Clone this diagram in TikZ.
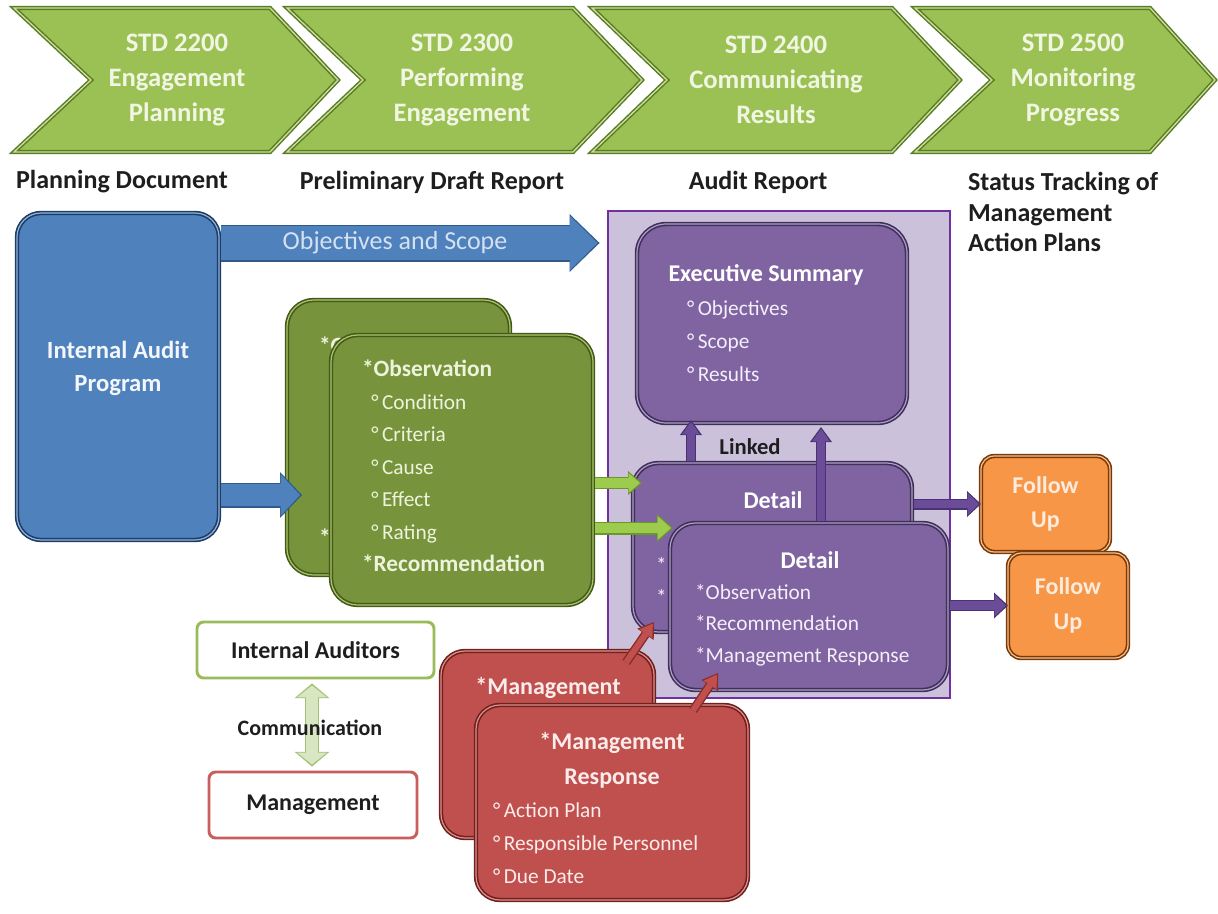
\documentclass[tikz,border=0pt]{standalone}
\usepackage{fontspec}
\setmainfont{Carlito}
\usetikzlibrary{fit,calc,arrows.meta}

\definecolor{chevF}{HTML}{9BC155}
\definecolor{chevD}{HTML}{5A7A25}
\definecolor{chevL}{HTML}{C8E09A}
\definecolor{chevT}{HTML}{F1F6E2}
\definecolor{labT}{HTML}{1E1E1E}
\definecolor{blueF}{HTML}{4F81BD}
\definecolor{blueD}{HTML}{1F3D63}
\definecolor{blueL}{HTML}{8EB3E0}
\definecolor{blueT}{HTML}{F3F6FA}
\definecolor{objT}{HTML}{D4E1F1}
\definecolor{arrBD}{HTML}{2F5A8C}
\definecolor{grnF}{HTML}{77933C}
\definecolor{grnD}{HTML}{46591C}
\definecolor{grnL}{HTML}{A9C768}
\definecolor{grnT}{HTML}{EEF4DC}
\definecolor{conF}{HTML}{CCC1DA}
\definecolor{conD}{HTML}{7030A0}
\definecolor{purF}{HTML}{8064A2}
\definecolor{purD}{HTML}{3F3058}
\definecolor{purL}{HTML}{AE9BCB}
\definecolor{purT}{HTML}{F3EFF8}
\definecolor{purA}{HTML}{6A4C98}
\definecolor{purAD}{HTML}{4A3370}
\definecolor{orgF}{HTML}{F79646}
\definecolor{orgD}{HTML}{7A3A08}
\definecolor{orgL}{HTML}{FBC08F}
\definecolor{orgT}{HTML}{FDEBDD}
\definecolor{redF}{HTML}{C0504D}
\definecolor{redD}{HTML}{6E211F}
\definecolor{redL}{HTML}{E0908D}
\definecolor{redT}{HTML}{FBECEB}
\definecolor{redA}{HTML}{C0504D}
\definecolor{redAD}{HTML}{8A2D2A}
\definecolor{lgA}{HTML}{9CCB4E}
\definecolor{lgAD}{HTML}{6A962A}
\definecolor{iaB}{HTML}{9BBB59}
\definecolor{mgB}{HTML}{C95F5C}
\definecolor{comF}{HTML}{D9E6C2}
\definecolor{comD}{HTML}{A3BF74}

\newcommand{\fsz}[2]{\fontsize{#1}{#2}\selectfont}
\newcommand{\dg}{°\thinspace}

% block arrow: from, to, fill, border, shaft px, head length px, head width px
\newcommand{\fatarr}[7]{%
  \pgfmathsetmacro{\faW}{#5*0.75}%
  \pgfmathsetmacro{\faL}{#6*0.75}%
  \pgfmathsetmacro{\faH}{#7*0.75}%
  \pgfmathsetmacro{\faWi}{max(#5*0.75-2.2,0.5)}%
  \pgfmathsetmacro{\faLi}{#6*0.75-2}%
  \pgfmathsetmacro{\faHi}{#7*0.75-3.2}%
  \draw[draw=#4, line width=\faW pt, shorten <=1.5pt, -{Triangle[length=\faL pt, width=\faH pt, line width=0pt, fill=#4]}] #1 -- #2;
  \draw[draw=#3, line width=\faWi pt, shorten <=1.5pt, shorten >=1.5pt, -{Triangle[length=\faLi pt, width=\faHi pt, line width=0pt, fill=#3]}] #1 -- #2;
}

\tikzset{
  bx/.style n args={3}{fill=#1, draw=#2, double=#3, double distance=0.9pt, line width=1.2pt, inner sep=0pt, outer sep=0pt},
  chev/.style={fill=chevF, draw=chevD, double=chevL, double distance=1pt, line width=1.1pt, line join=miter},
  tx/.style={inner sep=0pt, outer sep=0pt},
  chevtxt/.style={tx, text=chevT, align=center, font=\bfseries\fsz{20}{26.25}},
  lab/.style={tx, text=labT, font=\bfseries\fsz{19.5}{23}},
}

\begin{document}
\begin{tikzpicture}[x=0.75pt, y=-0.75pt]
\useasboundingbox (0,0) rectangle (1218,914);
\fill[white] (0,0) rectangle (1218,914);

% ---- chevrons
\path[chev] (14,8) -- (270,8) -- (338,80) -- (270,152) -- (14,152) -- (91,80) -- cycle;
\path[chev] (287,8) -- (573,8) -- (642,80) -- (573,152) -- (287,152) -- (363,80) -- cycle;
\path[chev] (592,8) -- (892,8) -- (960,80) -- (892,152) -- (592,152) -- (667,80) -- cycle;
\path[chev] (915,8) -- (1150,8) -- (1215,80) -- (1150,152) -- (915,152) -- (992,80) -- cycle;
\node[chevtxt] (c1t) at (177,80) {STD 2200\\Engagement\\Planning};
\node[chevtxt] (c2t) at (462,80) {STD 2300\\Performing\\Engagement};
\node[chevtxt] (c3t) at (776,80) {STD 2400\\Communicating\\Results};
\node[chevtxt] (c4t) at (1073,80) {STD 2500\\Monitoring\\Progress};

% ---- labels
\node[lab] (l1) at (122,182) {Planning Document};
\node[lab] (l2) at (432,182) {Preliminary Draft Report};
\node[lab] (l3) at (758,182) {Audit Report};
\node[lab, anchor=west, align=left] (l4) at (968,212) {Status Tracking of\\Management\\Action Plans};

% ---- audit report container and purple boxes
\node[fill=conF, draw=conD, line width=2.2pt, inner sep=0pt, fit={(608,211) (950,698)}] (cont) {};
\node[bx={purF}{purD}{purL}, rounded corners=22pt, fit={(637,224) (907,423)}] (exec) {};
\node[tx, text=white, font=\bfseries\fsz{18}{22}] (ext) at (766,275) {Executive Summary};
\node[tx, anchor=west, align=left, text=purT, font=\fsz{16}{24.75}] (exl) at (687,341) {\dg Objectives\\\dg Scope\\\dg Results};

\node[bx={purF}{purD}{purL}, rounded corners=19pt, fit={(633,463) (912,632)}] (bdet) {};
\node[tx, text=white, font=\bfseries\fsz{18}{22}] (bdt) at (773,500) {Detail};
\node[tx, anchor=west, text=purT, font=\fsz{16}{20}] (bds1) at (656,565) {*};
\node[tx, anchor=west, text=purT, font=\fsz{16}{20}] (bds2) at (656,597) {*};

% ---- blue program box
\node[bx={blueF}{blueD}{blueL}, rounded corners=18pt, fit={(17,213) (219,540)}] (iap) {};
\node[tx, text=blueT, align=center, font=\bfseries\fsz{18.5}{24.75}] (iapt) at (118,368) {Internal Audit\\Program};

% ---- green observation boxes
\node[bx={grnF}{grnD}{grnL}, rounded corners=20pt, fit={(287,300) (510,575)}] (gback) {};
\node[tx, anchor=west, text=grnT, font=\bfseries\fsz{17.5}{20}] (gbt1) at (319,345) {*Ob};
\node[tx, anchor=west, text=grnT, font=\bfseries\fsz{17.5}{20}] (gbt2) at (319,537) {*};
\node[bx={grnF}{grnD}{grnL}, rounded corners=20pt, fit={(331,335) (593,605)}] (gfront) {};
\node[tx, anchor=west, align=left, text=grnT, font=\fsz{16}{24.4}] (gft) at (362,466)
  {\textbf{\fsz{17.5}{24.4}*Observation}\\\hspace*{7pt}\dg Condition\\\hspace*{7pt}\dg Criteria\\\hspace*{7pt}\dg Cause\\\hspace*{7pt}\dg Effect\\\hspace*{7pt}\dg Rating\\\textbf{\fsz{17.5}{24.4}*Recommendation}};

% ---- blue arrows
\coordinate (objc) at (395,243);
\coordinate (b2) at (302,495);
\fatarr{(iap.east |- objc)}{($(cont.west |- objc)+(-7,0)$)}{blueF}{arrBD}{37}{30}{58}
\node[tx, text=objT, font=\fsz{19.5}{22}] (objt) at (objc) {Objectives and Scope};
\fatarr{(iap.east |- b2)}{(b2)}{blueF}{arrBD}{25}{22}{46}

% ---- green arrows into the report
\coordinate (g1) at (642,483);
\coordinate (g2) at (673,528);
\fatarr{(gfront.east |- g1)}{(g1)}{lgA}{lgAD}{12}{14}{24}
\fatarr{(gfront.east |- g2)}{(g2)}{lgA}{lgAD}{13}{16}{28}

% ---- front detail box
\node[bx={purF}{purD}{purL}, rounded corners=19pt, fit={(670,523) (948,690)}] (fdet) {};
\node[tx, text=white, font=\bfseries\fsz{18}{22}] (fdt) at (810,560) {Detail};
\node[tx, anchor=west, align=left, text=purT, font=\fsz{16}{23.5}] (fdl) at (695,625) {*Observation\\*Recommendation\\*Management Response};

% ---- linked arrows
\coordinate (lk1) at (691,420);
\coordinate (lk2) at (821,427);
\fatarr{(bdet.north -| lk1)}{(lk1)}{purA}{purAD}{10}{15}{22}
\fatarr{(fdet.north -| lk2)}{(lk2)}{purA}{purAD}{10}{15}{22}
\node[tx, text=labT, font=\bfseries\fsz{17}{20}] (lkt) at (750,447) {Linked};

% ---- follow up boxes
\node[bx={orgF}{orgD}{orgL}, rounded corners=10pt, fit={(981,456) (1110,552)}] (fu1) {};
\node[tx, align=center, text=orgT, font=\bfseries\fsz{18}{26}] (fu1t) at (fu1) {Follow\\Up};
\node[bx={orgF}{orgD}{orgL}, rounded corners=10pt, fit={(1008,553) (1128,658)}] (fu2) {};
\node[tx, align=center, text=orgT, font=\bfseries\fsz{18}{26}] (fu2t) at (fu2) {Follow\\Up};
\fatarr{(bdet.east |- fu1.west)}{(fu1.west)}{purA}{purAD}{11}{14}{26}
\fatarr{(fdet.east |- fu2.west)}{(fu2.west)}{purA}{purAD}{11}{14}{26}

% ---- management response boxes
\node[bx={redF}{redD}{redL}, rounded corners=18pt, fit={(441,651) (654,838)}] (rback) {};
\node[tx, text=redT, font=\bfseries\fsz{18}{26}] (rbt) at (548,688) {*Management};
\node[bx={redF}{redD}{redL}, rounded corners=18pt, fit={(476,705) (748,900)}] (rfront) {};
\node[tx, align=center, text=redT, font=\bfseries\fsz{18}{26.25}] (rft) at (612,760) {*Management\\Response};
\node[tx, anchor=west, align=left, text=redT, font=\fsz{16}{25}] (rfl) at (493,843) {\dg Action Plan\\\dg Responsible Personnel\\\dg Due Date};

\coordinate (r1s) at (625,664);
\coordinate (r1e) at (654,622);
\coordinate (r2s) at (692,712);
\coordinate (r2e) at (718,673);
\fatarr{(r1s)}{(r1e)}{redA}{redAD}{9}{15}{20}
\fatarr{(r2s)}{(r2e)}{redA}{redAD}{9}{15}{20}

% ---- communication
\node[fill=white, draw=iaB, line width=2.2pt, rounded corners=5pt, inner sep=0pt, fit={(197,622) (434,678)}] (ia) {};
\node[tx, text=labT, font=\bfseries\fsz{18}{22}] (iat) at (ia) {Internal Auditors};
\node[fill=white, draw=mgB, line width=2.2pt, rounded corners=5pt, inner sep=0pt, fit={(209,772) (417,838)}] (mg) {};
\node[tx, text=labT, font=\bfseries\fsz{18}{22}] (mgt) at (mg) {Management};
\draw[draw=comD, line width=11pt, shorten <=3pt, shorten >=3pt,
  {Triangle[length=11pt, width=26pt, line width=0pt, fill=comD]}-{Triangle[length=11pt, width=26pt, line width=0pt, fill=comD]}]
  (ia.south -| 312,0) -- (mg.north -| 312,0);
\draw[draw=comF, line width=8.8pt, shorten <=4.5pt, shorten >=4.5pt,
  {Triangle[length=9pt, width=22.5pt, line width=0pt, fill=comF]}-{Triangle[length=9pt, width=22.5pt, line width=0pt, fill=comF]}]
  (ia.south -| 312,0) -- (mg.north -| 312,0);
\node[tx, text=labT, font=\bfseries\fsz{16.5}{20}] (comt) at (310,728) {Communication};
\end{tikzpicture}
\end{document}
